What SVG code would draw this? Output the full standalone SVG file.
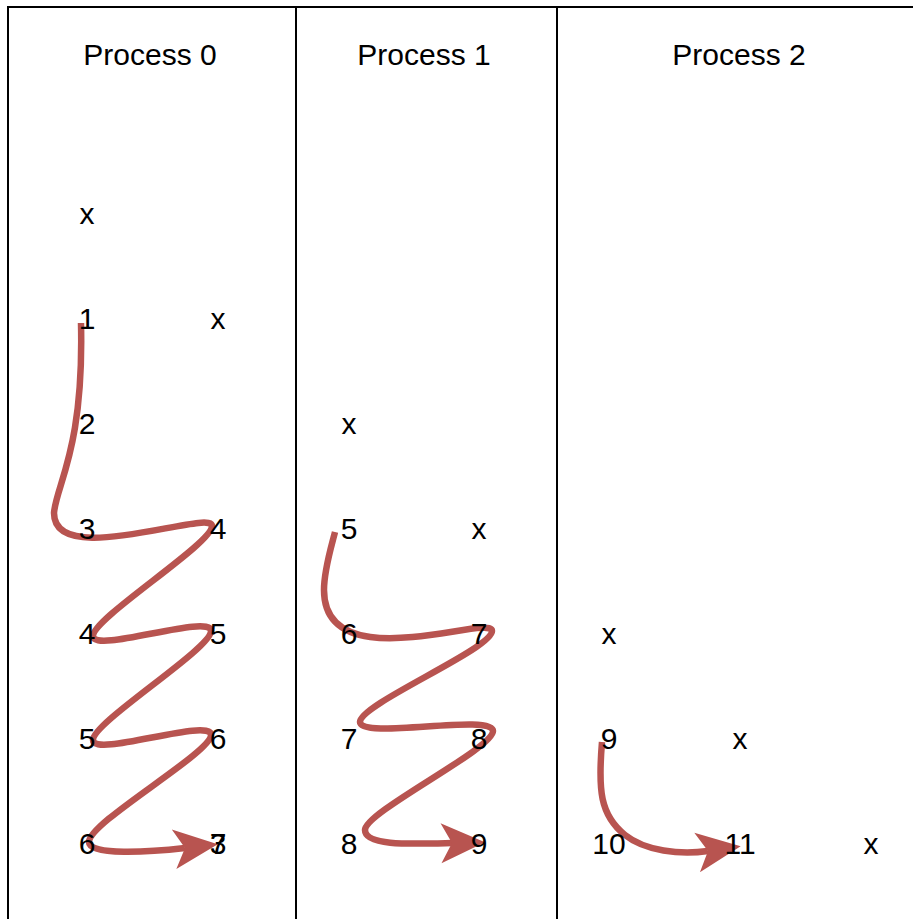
<svg xmlns="http://www.w3.org/2000/svg" width="913" height="919" viewBox="0 0 913 919">
  <defs>
    <style>
      .frame { fill: none; stroke: #000; stroke-width: 2; }
      .head { font-family: "Liberation Sans", Arial, Helvetica, sans-serif; font-size: 30px; fill: #000; text-anchor: middle; }
      .cell { font-family: "Liberation Sans", Arial, Helvetica, sans-serif; font-size: 30px; fill: #000; text-anchor: middle; }
      .flow { fill: none; stroke: #b85450; stroke-width: 6.5; stroke-linecap: butt; stroke-linejoin: round; marker-end: url(#arrow); }
    </style>
    <marker id="arrow" markerUnits="userSpaceOnUse" viewBox="0 0 44 40" refX="11" refY="20" markerWidth="44" markerHeight="40" orient="auto" overflow="visible">
      <path d="M0,0 L44,20 L0,40 L11,20 Z" fill="#b85450"/>
    </marker>
  </defs>

  <rect width="913" height="919" fill="#fff"/>

  <!-- swimlane frame -->
  <g id="lanes">
    <rect class="frame" x="8" y="7" width="1000" height="1000"/>
    <line class="frame" x1="296" y1="7" x2="296" y2="930"/>
    <line class="frame" x1="557" y1="7" x2="557" y2="930"/>
  </g>

  <!-- connectors -->
  <g id="connectors">
    <path class="flow" d="M81,323 C84,450 56,485 54,513 C54,570 212,508 212,526 C212,544 93,618 93,636 C93,654 211,613 211,631 C211,649 93,722 93,740 C93,758 211,717 211,735 C211,753 89,822 89,842 C89,856 150,852 185,848"/>
    <path class="flow" d="M335,532 C331,548 324,570 324,590 C324,680 492,613 492,631 C492,649 360,704 360,722 C360,740 493,713 493,731 C493,749 365,812 365,830 C365,846 410,844 452,843"/>
    <path class="flow" d="M602,742 C598,790 600,815 625,835 C645,851 680,855 708,851"/>
  </g>

  <!-- lane headers -->
  <g id="process-0"><text class="head" x="150" y="65">Process 0</text></g>
  <g id="process-1"><text class="head" x="424" y="65">Process 1</text></g>
  <g id="process-2"><text class="head" x="739" y="65">Process 2</text></g>

  <!-- Process 0 cells -->
  <g id="p0-r0-a"><text class="cell" x="87" y="224">x</text></g>
  <g id="p0-r1-a"><text class="cell" x="87" y="329">1</text></g>
  <g id="p0-r1-b"><text class="cell" x="218" y="329">x</text></g>
  <g id="p0-r2-a"><text class="cell" x="87" y="434">2</text></g>
  <g id="p0-r3-a"><text class="cell" x="87" y="539">3</text></g>
  <g id="p0-r3-b"><text class="cell" x="218" y="539">4</text></g>
  <g id="p0-r4-a"><text class="cell" x="87" y="644">4</text></g>
  <g id="p0-r4-b"><text class="cell" x="218" y="644">5</text></g>
  <g id="p0-r5-a"><text class="cell" x="87" y="749">5</text></g>
  <g id="p0-r5-b"><text class="cell" x="218" y="749">6</text></g>
  <g id="p0-r6-a"><text class="cell" x="87" y="854">6</text></g>
  <g id="p0-r6-b"><text class="cell" x="218" y="854">7</text></g>
  <g id="p0-r6-c"><text class="cell" x="218" y="854">3</text></g>

  <!-- Process 1 cells -->
  <g id="p1-r2-a"><text class="cell" x="349" y="434">x</text></g>
  <g id="p1-r3-a"><text class="cell" x="349" y="539">5</text></g>
  <g id="p1-r3-b"><text class="cell" x="479" y="539">x</text></g>
  <g id="p1-r4-a"><text class="cell" x="349" y="644">6</text></g>
  <g id="p1-r4-b"><text class="cell" x="479" y="644">7</text></g>
  <g id="p1-r5-a"><text class="cell" x="349" y="749">7</text></g>
  <g id="p1-r5-b"><text class="cell" x="479" y="749">8</text></g>
  <g id="p1-r6-a"><text class="cell" x="349" y="854">8</text></g>
  <g id="p1-r6-b"><text class="cell" x="479" y="854">9</text></g>

  <!-- Process 2 cells -->
  <g id="p2-r4-a"><text class="cell" x="609" y="644">x</text></g>
  <g id="p2-r5-a"><text class="cell" x="609" y="749">9</text></g>
  <g id="p2-r5-b"><text class="cell" x="740" y="749">x</text></g>
  <g id="p2-r6-a"><text class="cell" x="609" y="854">10</text></g>
  <g id="p2-r6-b"><text class="cell" x="740" y="854">11</text></g>
  <g id="p2-r6-c"><text class="cell" x="871" y="854">x</text></g>
</svg>
